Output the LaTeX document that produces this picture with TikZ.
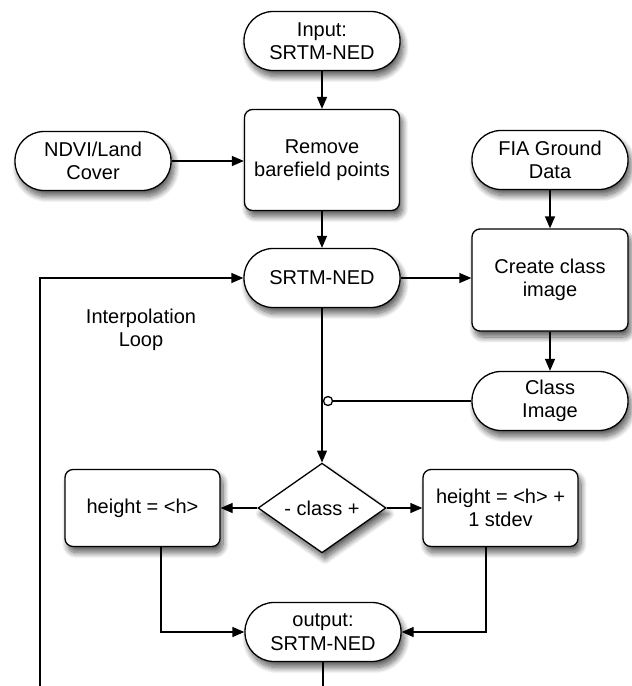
\documentclass[tikz,border=0pt]{standalone}
\usepackage{fontspec}
\setmainfont{Liberation Sans}
\usetikzlibrary{shapes.geometric,shadows.blur,arrows.meta}
\begin{document}
\begin{tikzpicture}[x=1pt,y=-1pt,
  shd/.style={blur shadow={shadow xshift=3pt,shadow yshift=-6pt,shadow blur radius=6pt,shadow blur steps=12,shadow opacity=65}},
  base/.style={draw=black,line width=1.3pt,fill=white,shd,align=center,font=\fontsize{20}{23.5}\selectfont,inner sep=0pt},
  term/.style={base,rounded corners=29pt,minimum width=156pt,minimum height=59pt},
  proc/.style={base,rounded corners=8pt,minimum width=155pt},
  dec/.style={base,diamond,minimum width=128pt,minimum height=89pt},
  conn/.style={line width=1.3pt,-{Triangle[length=12pt,width=10pt]}},
  plain/.style={line width=1.3pt},
  lbl/.style={align=center,font=\fontsize{20}{23.5}\selectfont,inner sep=0pt}
]
\useasboundingbox (0,0) rectangle (632,686);

\node[term] (in) at (322,41) {Input:\\SRTM-NED};
\node[proc,minimum height=101pt] (rm) at (322,160) {Remove\\barefield points};
\node[term] (ndvi) at (93,161) {NDVI/Land\\Cover};
\node[term] (fia) at (550,160) {FIA Ground\\Data};
\node[term] (srtm) at (322,278) {SRTM-NED};
\node[proc,minimum height=102pt,minimum width=156pt] (create) at (550,280) {Create class\\image};
\node[term] (ci) at (550,401) {Class\\Image};
\node[dec] (dec) at (322,508) {- class +};
\node[proc,minimum height=77pt] (hl) at (142.5,508) {height = <h>};
\node[proc,minimum height=77pt] (hr) at (500.5,508) {height = <h> +\\1 stdev};
\node[term] (out) at (323,632) {output:\\SRTM-NED};
\node[lbl] (loop) at (141,330) {Interpolation\\Loop};

\coordinate (lb) at (40,686);
\coordinate (ob) at (323,686);

\draw[conn] (in) -- (rm);
\draw[conn] (ndvi.east) -- (rm.west |- ndvi.east);
\draw[conn] (rm) -- (srtm);
\draw[conn] (srtm.east) -- (create.west |- srtm.east);
\draw[conn] (fia) -- (create);
\draw[conn] (create) -- (ci);
\draw[conn] (srtm) -- (dec);
\node[circle,draw,line width=1.3pt,fill=white,inner sep=0pt,minimum size=9pt] (j) at (328,401) {};
\draw[plain] (ci.west) -- (j.east);
\draw[conn] (dec) -- (hl);
\draw[conn] (dec) -- (hr);
\draw[conn] ([xshift=18.5pt]hl.south) |- (out.west);
\draw[conn] ([xshift=-14.5pt]hr.south) |- (out.east);
\draw[plain] (out.south) -- (ob);
\draw[conn] (lb) |- (srtm.west);
\end{tikzpicture}
\end{document}
